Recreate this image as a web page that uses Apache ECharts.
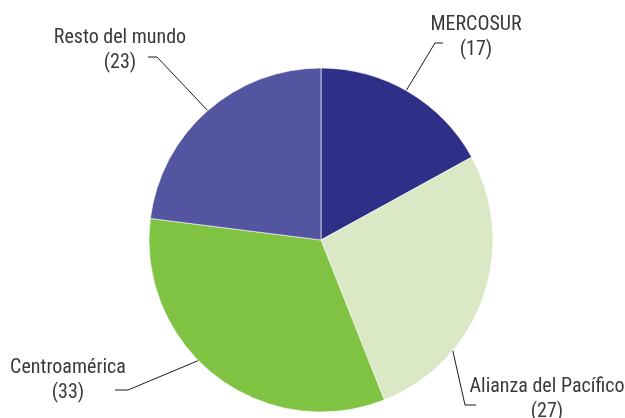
<!DOCTYPE html>
<html>
<head>
<meta charset="utf-8">
<script src="https://cdn.jsdelivr.net/npm/echarts@6/dist/echarts.min.js"></script>
<style>
  html, body { margin: 0; padding: 0; background: #fff; }
  #chart { width: 625px; height: 418px; }
</style>
</head>
<body>
<div id="chart"></div>
<script>
const categories = ['MERCOSUR', 'Alianza del Pacífico', 'Centroamérica', 'Resto del mundo'];
const values = [17, 27, 33, 23];
const colors = ['#2E3087', '#DAE8C6', '#80C342', '#5455A0'];

// label placement: text centre, elbow, line end, and angle where the leader meets the pie
const cx = 321, cy = 240, r = 172;
const labelPos = [
  { text: [476, 37], elbow: [435, 43], end: [443, 43], angle: 60.3 },
  { text: [547, 399], elbow: [465, 405], end: [476, 405], angle: -40 },
  { text: [68, 380], elbow: [128, 390], end: [115, 390], angle: 224.5 },
  { text: [120, 50], elbow: [157, 57], end: [148, 57], angle: 131.2 },
];

const chart = echarts.init(document.getElementById('chart'));
chart.setOption({
  animation: false,
  series: [
    {
      type: 'pie',
      center: [cx, cy],
      radius: r,
      startAngle: 90,
      clockwise: true,
      emphasis: { disabled: true },
      itemStyle: { borderColor: '#ffffff', borderWidth: 0.6 },
      label: {
        show: true,
        formatter: '{b}\n({c})',
        fontFamily: '"Liberation Sans Narrow", "Roboto Condensed", "DejaVu Sans Condensed", Roboto, sans-serif',
        fontSize: 20,
        lineHeight: 25,
        color: '#3a3a3a',
        align: 'center',
        overflow: 'none',
        width: 200,
      },
      labelLine: {
        show: true,
        lineStyle: { color: '#1a1a1a', width: 1 },
      },
      labelLayout: (params) => {
        const p = labelPos[params.dataIndex];
        const a = (p.angle * Math.PI) / 180;
        const start = [cx + r * Math.cos(a), cy - r * Math.sin(a)];
        return {
          x: p.text[0],
          y: p.text[1],
          align: 'center',
          verticalAlign: 'middle',
          width: 200,
          labelLinePoints: [start, p.elbow, p.end],
        };
      },
      data: categories.map((name, i) => ({
        name,
        value: values[i],
        itemStyle: { color: colors[i] },
      })),
    },
  ],
});
</script>
</body>
</html>
